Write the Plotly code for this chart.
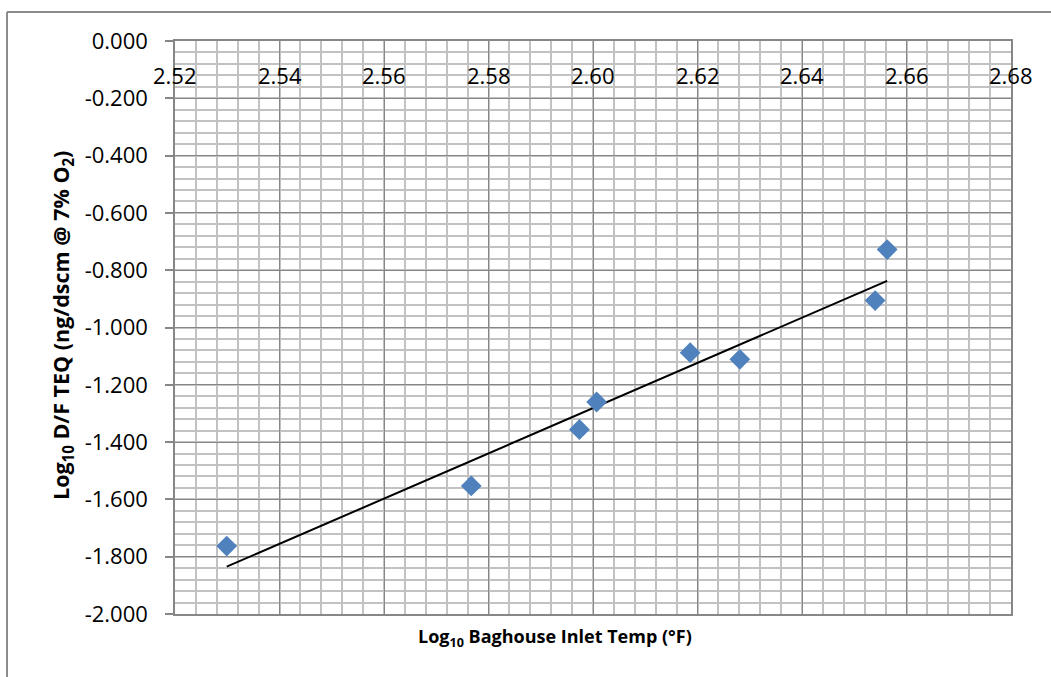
import numpy as np
import plotly.graph_objects as go

# Data
log_temp = [2.5299, 2.5767, 2.5974, 2.6007, 2.6186, 2.6281, 2.6540, 2.6563]
log_teq = [-1.763, -1.553, -1.356, -1.260, -1.088, -1.111, -0.906, -0.728]

x_tick_vals = [2.52, 2.54, 2.56, 2.58, 2.60, 2.62, 2.64, 2.66, 2.68]
x_tick_text = ["2.52", "2.54", "2.56", "2.58", "2.60", "2.62", "2.64", "2.66", "2.68"]
y_tick_vals = [0.0, -0.2, -0.4, -0.6, -0.8, -1.0, -1.2, -1.4, -1.6, -1.8, -2.0]
y_tick_text = ["0.000", "-0.200", "-0.400", "-0.600", "-0.800", "-1.000",
               "-1.200", "-1.400", "-1.600", "-1.800", "-2.000"]

x_title = "Log<sub>10</sub> Baghouse Inlet Temp (°F)"
y_title = "Log<sub>10</sub> D/F TEQ (ng/dscm @ 7% O<sub>2</sub>)"

X_RANGE = [2.52, 2.68]
Y_RANGE = [-2.0, 0.0]

# Linear trendline fitted to the points
slope, intercept = np.polyfit(log_temp, log_teq, 1)
trend_x = [min(log_temp), max(log_temp)]
trend_y = [slope * v + intercept for v in trend_x]

FONT = "Open Sans"
MAJOR = "#878787"
MINOR = "#c2c2c2"

fig = go.Figure()
fig.add_trace(go.Scatter(
    x=trend_x, y=trend_y, mode="lines",
    line=dict(color="black", width=2), showlegend=False, hoverinfo="skip"))
fig.add_trace(go.Scatter(
    x=log_temp, y=log_teq, mode="markers",
    marker=dict(symbol="diamond", size=16, color="#4F81BD", line=dict(width=0)),
    showlegend=False))

W, H = 1051, 677
ML, MR, MT, MB = 175, 40, 41, 63
PW, PH = W - ML - MR, H - MT - MB

def px(xp):
    return (xp - ML) / PW

def py(yp):
    return (H - MB - yp) / PH

annotations = [
    dict(text=x_title, xref="paper", yref="paper", x=px(555), y=py(637),
         xanchor="center", yanchor="middle", showarrow=False,
         font=dict(family=FONT, size=18, color="black", weight="bold")),
    dict(text=y_title, xref="paper", yref="paper", x=px(62), y=py(325),
         xanchor="center", yanchor="middle", showarrow=False, textangle=-90,
         font=dict(family=FONT, size=21.5, color="black", weight="bold")),
]
# x-axis tick labels sit just below the top axis line (axis crosses at y=0)
for v, t in zip(x_tick_vals, x_tick_text):
    annotations.append(dict(
        text=t, xref="x", yref="paper", x=v, y=py(75),
        xanchor="center", yanchor="middle", showarrow=False,
        font=dict(family=FONT, size=22, color="#000000")))

fig.update_layout(
    width=W, height=H,
    margin=dict(l=ML, r=MR, t=MT, b=MB, pad=0),
    paper_bgcolor="white", plot_bgcolor="white",
    font=dict(family=FONT, size=22, color="black"),
    xaxis=dict(
        range=X_RANGE, side="top", showticklabels=False,
        tickvals=x_tick_vals, ticktext=x_tick_text,
        ticks="", showgrid=True, gridcolor=MAJOR, gridwidth=1.2,
        minor=dict(dtick=0.004, showgrid=True, gridcolor=MINOR, gridwidth=1.6),
        showline=True, linecolor=MAJOR, linewidth=1.5, mirror=True,
        zeroline=False),
    yaxis=dict(
        range=Y_RANGE, tickvals=y_tick_vals, ticktext=y_tick_text,
        ticklabeloverflow="allow",
        ticks="outside", ticklen=8, tickcolor=MAJOR, tickwidth=1.5,
        showgrid=True, gridcolor=MAJOR, gridwidth=1.2,
        minor=dict(dtick=0.04, showgrid=True, gridcolor=MINOR, gridwidth=1.6),
        showline=True, linecolor=MAJOR, linewidth=1.5, mirror=True,
        zeroline=False, ticklabelstandoff=13,
        tickfont=dict(family=FONT, size=22)),
    annotations=annotations,
    shapes=[
        dict(type="line", xref="paper", yref="paper", x0=px(7), x1=px(7),
             y0=py(12), y1=py(690), line=dict(color="#8c8c8c", width=2)),
        dict(type="line", xref="paper", yref="paper", x0=px(7), x1=px(1060),
             y0=py(12), y1=py(12), line=dict(color="#8c8c8c", width=2)),
    ],
)

fig.write_html("out.html")
